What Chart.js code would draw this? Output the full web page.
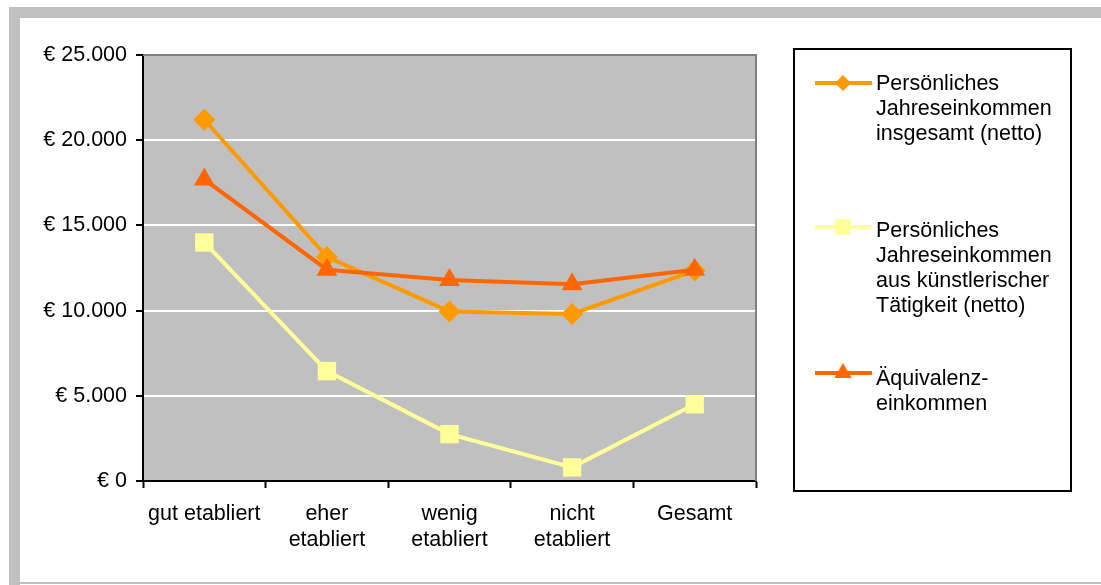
<!DOCTYPE html>
<html>
<head>
<meta charset="utf-8">
<script src="https://cdn.jsdelivr.net/npm/chart.js@4/dist/chart.umd.min.js"></script>
<style>
  body { margin: 0; background: #fff; }
  #wrap { width: 1101px; height: 585px; position: relative; }
</style>
</head>
<body>
<div id="wrap"><canvas id="grafica"></canvas></div>
<script>
// Kategorien (x-Achse)
var kategorien = ['gut etabliert', ['eher', 'etabliert'], ['wenig', 'etabliert'], ['nicht', 'etabliert'], 'Gesamt'];

// Werte in Euro
var einkommenGesamt = [21200, 13150, 9950, 9800, 12350];
var einkommenKunst = [14000, 6450, 2750, 800, 4500];
var aequivalenz = [17700, 12400, 11800, 11550, 12400];

// Legendentexte (Zeilen)
var legendeTexte = [
    ['Persönliches', 'Jahreseinkommen', 'insgesamt (netto)'],
    ['Persönliches', 'Jahreseinkommen', 'aus künstlerischer', 'Tätigkeit (netto)'],
    ['Äquivalenz-', 'einkommen']
];
var legendeY = [84, 231, 379];
var legendeLinieY = [83, 227, 373];

var schrift = '"Liberation Sans", Arial, sans-serif';
var groesse = 21.5;

function euro(v) {
    return '€ ' + String(v).replace(/\B(?=(\d{3})+(?!\d))/g, '.');
}

// Rahmen, grauer Hintergrund der Zeichenfläche, eigene Legende
var rahmenPlugin = {
    id: 'rahmen',
    beforeDraw: function(chart) {
        var c = chart.ctx, a = chart.chartArea;
        c.save();
        c.fillStyle = '#c0c0c0';
        c.fillRect(9, 7, 1092, 11);
        c.fillRect(9, 7, 11, 578);
        c.fillRect(20, 582, 1081, 2);
        c.fillRect(a.left, a.top, a.right - a.left, a.bottom - a.top);
        c.restore();
    },
    beforeDatasetsDraw: function(chart) {
        var c = chart.ctx, a = chart.chartArea;
        c.save();
        c.strokeStyle = '#808080';
        c.lineWidth = 2;
        c.beginPath();
        c.moveTo(a.left, a.top);
        c.lineTo(a.right, a.top);
        c.lineTo(a.right, a.bottom);
        c.stroke();
        c.restore();
    },
    afterDraw: function(chart) {
        var c = chart.ctx;
        c.save();
        c.strokeStyle = '#000';
        c.lineWidth = 2;
        c.strokeRect(794, 49, 277, 442);
        c.font = groesse + 'px ' + schrift;
        c.textBaseline = 'middle';
        c.fillStyle = '#000';
        chart.data.datasets.forEach(function(ds, i) {
            var y = legendeLinieY[i];
            c.strokeStyle = ds.borderColor;
            c.lineWidth = 4;
            c.beginPath();
            c.moveTo(815, y);
            c.lineTo(872, y);
            c.stroke();
            c.fillStyle = ds.backgroundColor;
            Chart.helpers.drawPoint(c, {pointStyle: ds.pointStyle, radius: ds.legendRadius, borderWidth: 0}, 843, y);
            c.fillStyle = '#000';
            legendeTexte[i].forEach(function(t, k) {
                c.fillText(t, 876, legendeY[i] + k * 25);
            });
        });
        c.restore();
    }
};

var ctx = document.getElementById('grafica').getContext('2d');
var grafik = new Chart(ctx, {
    type: 'line',
    data: {
        labels: kategorien,
        datasets: [{
            label: legendeTexte[0].join(' '),
            data: einkommenGesamt,
            borderColor: '#ff9900',
            backgroundColor: '#ff9900',
            pointStyle: 'rectRot',
            pointRadius: 11,
            pointHoverRadius: 11,
            legendRadius: 8,
            pointBorderWidth: 0,
            borderWidth: 4,
            tension: 0,
            order: 1
        }, {
            label: legendeTexte[1].join(' '),
            data: einkommenKunst,
            borderColor: '#ffff99',
            backgroundColor: '#ffff99',
            pointStyle: 'rect',
            pointRadius: 13,
            pointHoverRadius: 13,
            legendRadius: 11,
            pointBorderWidth: 0,
            borderWidth: 4,
            tension: 0,
            order: 2
        }, {
            label: legendeTexte[2].join(' '),
            data: aequivalenz,
            borderColor: '#ff6600',
            backgroundColor: '#ff6600',
            pointStyle: 'triangle',
            pointRadius: 12,
            pointHoverRadius: 12,
            legendRadius: 10,
            pointBorderWidth: 0,
            borderWidth: 4,
            tension: 0,
            order: 0
        }]
    },
    options: {
        responsive: true,
        maintainAspectRatio: false,
        animation: false,
        layout: {
            padding: { left: 0, top: 55, right: 345, bottom: 0 }
        },
        plugins: {
            legend: { display: false },
            tooltip: { enabled: false }
        },
        scales: {
            x: {
                offset: true,
                grid: {
                    offset: true,
                    drawOnChartArea: false,
                    drawTicks: true,
                    tickLength: 7,
                    tickColor: '#000',
                    tickWidth: 2
                },
                border: { color: '#000', width: 2 },
                ticks: {
                    color: '#000',
                    padding: 13,
                    maxRotation: 0,
                    font: { family: schrift, size: groesse, lineHeight: 1.2 }
                },
                afterFit: function(scale) { scale.height = 104; }
            },
            y: {
                min: 0,
                max: 25000,
                grid: {
                    color: function(c) {
                        if (c.tick && c.tick.value === 25000) return '#808080';
                        return '#ffffff';
                    },
                    lineWidth: 2,
                    tickLength: 7,
                    tickColor: '#000',
                    tickWidth: 2
                },
                border: { color: '#000', width: 2 },
                ticks: {
                    stepSize: 5000,
                    color: '#000',
                    padding: 9,
                    font: { family: schrift, size: groesse },
                    callback: function(v) { return euro(v); }
                },
                afterFit: function(scale) { scale.width = 143; }
            }
        }
    },
    plugins: [rahmenPlugin]
});
</script>
</body>
</html>
